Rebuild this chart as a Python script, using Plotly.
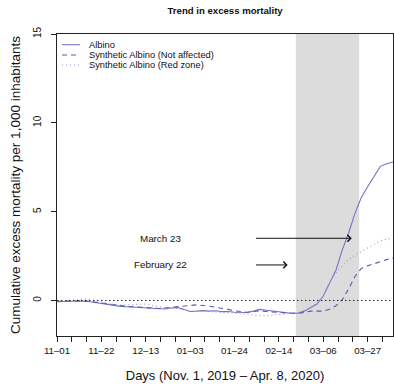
import pandas as pd
import plotly.graph_objects as go

# ---------------- data ----------------
start = pd.Timestamp("2019-11-01")
day_offsets = list(range(0, 160, 3))  # every 3 days, Nov 1 2019 .. Apr 8 2020
dates = [start + pd.Timedelta(days=d) for d in day_offsets]

albino = [-0.07, -0.06, -0.04, -0.02, -0.03, -0.06, -0.12, -0.18, -0.24, -0.28,
          -0.33, -0.35, -0.37, -0.40, -0.40, -0.43, -0.47, -0.48, -0.42, -0.40,
          -0.50, -0.62, -0.60, -0.57, -0.60, -0.58, -0.63, -0.62, -0.66, -0.68,
          -0.68, -0.60, -0.50, -0.55, -0.58, -0.62, -0.68, -0.72, -0.72, -0.60,
          -0.42, -0.20, 0.25, 0.95, 1.70, 2.85, 3.80, 4.90, 5.80, 6.40,
          6.95, 7.55, 7.70, 7.80]

synth_not_affected = [-0.05, -0.04, -0.02, 0.00, -0.02, -0.05, -0.10, -0.15, -0.22, -0.27,
                      -0.32, -0.33, -0.35, -0.38, -0.38, -0.42, -0.45, -0.42, -0.38, -0.32,
                      -0.30, -0.28, -0.25, -0.27, -0.32, -0.38, -0.42, -0.50, -0.58, -0.64,
                      -0.66, -0.62, -0.58, -0.62, -0.66, -0.68, -0.70, -0.72, -0.72, -0.68,
                      -0.60, -0.62, -0.60, -0.50, -0.30, 0.05, 0.65, 1.35, 1.80, 1.95,
                      2.05, 2.18, 2.30, 2.40]

synth_red_zone = [-0.03, -0.02, 0.00, 0.03, 0.07, 0.08, 0.00, -0.08, -0.18, -0.24,
                  -0.26, -0.25, -0.22, -0.20, -0.20, -0.28, -0.35, -0.40, -0.42, -0.45,
                  -0.50, -0.58, -0.62, -0.60, -0.62, -0.65, -0.70, -0.72, -0.72, -0.75,
                  -0.78, -0.82, -0.85, -0.86, -0.82, -0.80, -0.78, -0.75, -0.70, -0.55,
                  -0.38, -0.15, 0.25, 1.05, 1.55, 1.95, 2.30, 2.55, 2.76, 2.95,
                  3.15, 3.36, 3.45, 3.52]

series_names = ["Albino", "Synthetic Albino (Not affected)", "Synthetic Albino (Red zone)"]

x_range = ["2019-11-01", "2020-04-08"]
y_range = [-2, 15]
y_ticks = [0, 5, 10, 15]

shade_period = ["2020-02-22", "2020-03-23"]

arrow_labels = ["March 23", "February 22"]
arrow_levels = [3.5, 2.0]
arrow_tail = "2020-02-02 12:00"
arrow_heads = ["2020-03-19 12:00", "2020-02-18 04:00"]
label_x = "2019-12-20"

# ---------------- styles ----------------
FONT = "Liberation Sans, Arial, Helvetica, sans-serif"
colors = ["#7474c2", "#5a5ab2", "#9a9ad8"]
dashes = ["solid", "5px,4px", "1px,3px"]

fig = go.Figure()
for vals, name, c, d in zip([albino, synth_not_affected, synth_red_zone], series_names, colors, dashes):
    fig.add_trace(go.Scatter(x=dates, y=vals, mode="lines", name=name,
                             line=dict(color=c, width=1.1, dash=d), showlegend=False))

# shaded period
fig.add_shape(type="rect", xref="x", yref="y", x0=shade_period[0], x1=shade_period[1],
              y0=y_range[0], y1=y_range[1], fillcolor="#dcdcdc", line=dict(width=0), layer="below")
# zero line
fig.add_shape(type="line", xref="paper", yref="y", x0=0, x1=1, y0=0, y1=0,
              line=dict(color="#222222", width=1, dash="1.5px,2.5px"))

# arrows + labels
for lab, lev, head in zip(arrow_labels, arrow_levels, arrow_heads):
    fig.add_annotation(x=head, y=lev, ax=arrow_tail, ay=lev, xref="x", yref="y",
                       axref="x", ayref="y", text="", showarrow=True,
                       arrowhead=4, arrowsize=1.3, arrowwidth=1, arrowcolor="#111111")
    fig.add_annotation(x=label_x, y=lev, xref="x", yref="y", text=lab, showarrow=False,
                       font=dict(family=FONT, size=9.8, color="#111111"))

# manual legend (paper coords)
leg_rows = [0.9646, 0.9305, 0.8974]
for name, c, d, yy in zip(series_names, colors, dashes, leg_rows):
    fig.add_shape(type="line", xref="paper", yref="paper", x0=0.0149, x1=0.0685, y0=yy, y1=yy,
                  line=dict(color=c, width=1.1, dash=d))
    fig.add_annotation(x=0.0893, y=yy, xref="paper", yref="paper", text=name, showarrow=False,
                       xanchor="left", yanchor="middle",
                       font=dict(family=FONT, size=9.3, color="#111111"))

fig.update_layout(
    width=394, height=384,
    margin=dict(l=57, r=1, t=34, b=48),
    paper_bgcolor="white", plot_bgcolor="white",
    title=dict(text="<b>Trend in excess mortality</b>", x=0.5713, xanchor="center",
               y=1 - 11 / 384, yanchor="middle",
               font=dict(family=FONT, size=9.6, color="#111111")),
    font=dict(family=FONT, color="#111111"),
)

fig.update_xaxes(
    type="date", range=x_range, showgrid=False, zeroline=False,
    showline=True, linecolor="#222222", linewidth=1, mirror=True,
    tick0="2019-11-01", dtick=21 * 86400000, tickformat="%m\u2013%d",
    ticks="outside", ticklen=5, tickwidth=1, tickcolor="#222222",
    minor=dict(tick0="2019-11-01", dtick=7 * 86400000, ticks="outside", ticklen=5,
               tickwidth=1, tickcolor="#222222", showgrid=False),
    tickfont=dict(family=FONT, size=9.7, color="#111111"),
    title=dict(text="Days (Nov. 1, 2019 \u2013 Apr. 8, 2020)", standoff=16,
               font=dict(family=FONT, size=13, color="#111111")),
)
fig.update_yaxes(
    range=y_range, showgrid=False, zeroline=False,
    showline=True, linecolor="#222222", linewidth=1, mirror=True,
    tickvals=y_ticks, ticks="outside", ticklen=5, tickwidth=1, tickcolor="#222222",
    tickangle=-90, ticklabelstandoff=6,
    tickfont=dict(family=FONT, size=10, color="#111111"),
    title=dict(text="Cumulative excess mortality per 1,000 inhabitants", standoff=8,
               font=dict(family=FONT, size=13.5, color="#111111")),
)

fig.write_html("out.html")
